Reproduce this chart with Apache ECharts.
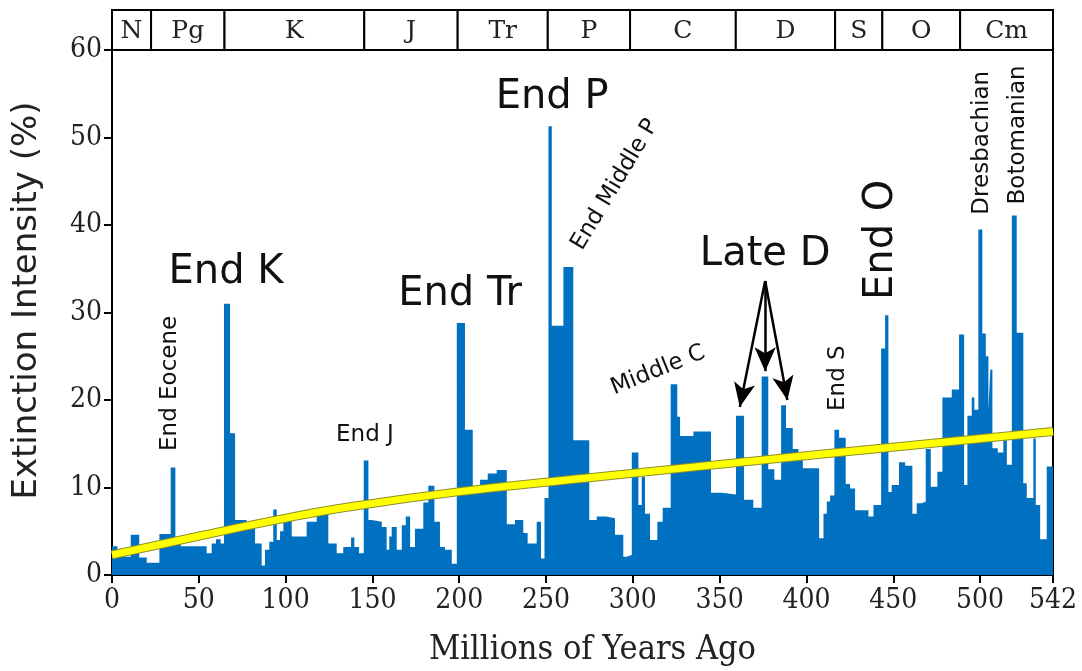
<!DOCTYPE html>
<html>
<head>
<meta charset="utf-8">
<script src="https://cdn.jsdelivr.net/npm/echarts@6/dist/echarts.min.js"></script>
<style>html,body{margin:0;padding:0;background:#fff}#c{width:1082px;height:671px}</style>
</head>
<body>
<div id="c"></div>
<script>
// Step histogram: bin start ages (Ma) and extinction intensity (%)
const binStarts = [0,3.1,10.8,15.7,20,27.3,33.8,36.5,39.6,54.5,57.4,59.9,62.6,64.5,68,70.9,77.6,82.4,86.2,88.1,90.6,92.9,94.9,96.8,98.7,103.5,112.1,117.9,124.6,129.4,133.2,137.7,139.6,142.3,145,147.7,149.6,155.4,158.2,159.7,161.1,164,166.9,169.2,171.7,174.5,179.3,182.2,185.7,188.9,191.8,195.7,198.6,203.3,207.8,212,216.4,221.6,227.4,232.1,236.9,239.4,244.6,247.1,249.1,251.4,253.3,260,265.7,274.9,279.2,284.6,289.7,294.5,296.5,299.4,303.2,305.1,307,309.9,314.1,317.2,321.8,325.6,327.2,334.9,345,351.2,359.4,364,369.4,374.2,378,381.5,385.4,388.2,392.1,395.3,397.9,407.3,409.8,411.7,413.6,416.1,418.8,422.6,425.1,428,435.7,438.6,443,445.3,447.2,449.1,453.3,456.8,461,463.5,466.4,468.7,471.6,475.4,478.3,483.7,487.9,490.8,492.7,495.2,496.7,499,501.3,503.3,504.8,505.9,507.1,510.2,513.4,515.4,518.3,521.1,524.9,526.9,530.7,532.1,534.6,538.4];
const binValues = [3.3,2.1,4.6,2.0,1.4,4.7,12.3,4.0,3.3,2.5,3.6,4.1,3.6,31.0,16.2,6.3,6.0,3.6,1.1,2.9,3.8,7.5,4.0,5.0,6.9,4.4,6.1,7.5,3.6,2.5,3.2,4.3,3.2,2.5,13.1,6.3,6.1,5.5,2.9,4.4,5.5,2.9,5.7,6.7,3.2,5.3,8.3,10.2,6.1,3.2,2.9,1.3,28.8,16.6,9.9,10.9,11.6,12.0,5.8,6.3,4.8,3.6,6.1,1.9,8.8,51.3,28.5,35.2,15.4,6.3,6.7,6.5,4.6,2.1,2.3,14.0,8.0,11.2,7.0,4.0,6.1,7.7,21.8,18.1,15.9,16.4,9.4,9.2,18.2,8.6,7.7,22.7,12.1,10.9,19.4,16.8,14.4,14.0,12.2,4.2,7.0,8.4,9.1,16.6,15.7,10.4,9.9,7.4,6.7,8.0,25.9,29.7,9.5,10.3,12.9,12.5,7.0,8.2,8.4,14.4,10.1,11.8,20.3,21.2,27.5,10.3,18.2,20.3,18.9,39.5,27.6,25.0,18.8,23.5,14.5,14.0,15.4,12.6,41.1,27.7,10.5,8.8,15.6,8.0,4.1,12.4];
const endAge = 542;

// Trend line
const trendAges = [0,49,95,137,199,272,408,542];
const trendValues = [2.3,4.4,6.3,7.8,9.5,11.05,13.8,16.4];

// Geological periods
const periodNames = ['N','Pg','K','J','Tr','P','C','D','S','O','Cm'];
const periodBounds = [0,22.5,64.8,145.3,199.1,251,298.4,359.3,416.5,443.7,488.5,542];

// x tick labels
const xTicks = [0,50,100,150,200,250,300,350,400,450,500,542];

// Annotations [text, age, value]
const annoText = ['End K','End Tr','End P','Late D','End O','End Eocene','End J','End Middle P','Middle C','End S','Dresbachian','Botomanian'];
const annoAge  = [65.7,200.5,253.5,376.2,443.3,33.4,145.7,289.7,314.5,418.2,501.2,521.9];
const annoVal  = [34.6,32.0,54.6,36.6,38.3,21.9,16.0,44.6,23.4,22.5,49.4,50.3];
// Late D arrows [fromAge, fromVal, toAge, toVal]
const arrows = [[376.2,33.6,361.6,19.2],[376.2,33.6,376.2,23.3],[376.2,33.6,389.0,20.0]];

const annoStyle = [
  {s:40,r:0},{s:40,r:0},{s:40,r:0},{s:40,r:0},{s:40,r:90},
  {s:23,r:90},{s:23,r:0},{s:23,r:59},{s:23,r:22},{s:23,r:90},{s:23,r:90},{s:23,r:90}
];

const histData = binStarts.map((a,i)=>[a,binValues[i]]);
histData.push([endAge, binValues[binValues.length-1]]);
const trendData = trendAges.map((a,i)=>[a,trendValues[i]]);

const chart = echarts.init(document.getElementById('c'));
const serif = '"DejaVu Serif Condensed","DejaVu Serif",serif';
const sans = '"DejaVu Sans",sans-serif';

chart.setOption({
  animation:false,
  grid:{left:112,right:29,top:50,bottom:96,show:true,borderColor:'#000',borderWidth:2,containLabel:false,outerBoundsMode:'none'},
  xAxis:{
    type:'value',min:0,max:542,
    name:'Millions of Years Ago',nameLocation:'middle',nameGap:58,
    nameTextStyle:{fontFamily:serif,fontSize:34,color:'#222',padding:[0,0,0,20]},
    axisLine:{show:true,onZero:false,lineStyle:{color:'#000',width:2}},
    axisTick:{show:true,inside:false,length:8,lineStyle:{color:'#000',width:2},customValues:xTicks},
    axisLabel:{fontFamily:serif,fontSize:28,color:'#222',margin:12,customValues:xTicks},
    splitLine:{show:false}
  },
  yAxis:{
    type:'value',min:0,max:60,interval:10,
    name:'Extinction Intensity (%)',nameLocation:'middle',nameGap:68,
    nameTextStyle:{fontFamily:sans,fontSize:34,color:'#222',padding:[0,0,0,24]},
    axisLine:{show:true,lineStyle:{color:'#000',width:2}},
    axisTick:{show:true,inside:false,length:8,lineStyle:{color:'#000',width:2}},
    axisLabel:{fontFamily:serif,fontSize:28,color:'#222',margin:10},
    splitLine:{show:false}
  },
  series:[
    {type:'line',step:'end',data:histData,symbol:'none',
     lineStyle:{width:0,color:'#0070c0'},areaStyle:{color:'#0070c0',opacity:1},z:2},
    {type:'line',data:trendData,smooth:true,symbol:'none',
     lineStyle:{width:9,color:'#8f8f2a'},z:3},
    {type:'line',data:trendData,smooth:true,symbol:'none',
     lineStyle:{width:7,color:'#ffff00'},z:4,
     markLine:{silent:true,symbol:['none','arrow'],symbolSize:[16,24],animation:false,
       label:{show:false},
       lineStyle:{color:'#000',width:2.5,type:'solid'},
       data:arrows.map(a=>[{coord:[a[0],a[1]]},{coord:[a[2],a[3]]}])}
    }
  ]
});

const g = [];
const toPx = (a)=>chart.convertToPixel({xAxisIndex:0},a);
const bandTop = 10, bandBot = 50;
for(let i=0;i<periodNames.length;i++){
  const x0 = toPx(periodBounds[i]), x1 = toPx(periodBounds[i+1]);
  g.push({type:'rect',shape:{x:x0,y:bandTop,width:x1-x0,height:bandBot-bandTop},
    style:{fill:'#fff',stroke:'#000',lineWidth:2},z:10});
  g.push({type:'text',x:(x0+x1)/2,y:(bandTop+bandBot)/2+1,
    style:{text:periodNames[i],fontFamily:'"DejaVu Serif",serif',fontSize:25,fill:'#222',align:'center',verticalAlign:'middle'},z:11});
}
for(let i=0;i<annoText.length;i++){
  const p = chart.convertToPixel({xAxisIndex:0,yAxisIndex:0},[annoAge[i],annoVal[i]]);
  g.push({type:'text',x:p[0],y:p[1],rotation:annoStyle[i].r*Math.PI/180,
    style:{text:annoText[i],fontFamily:sans,fontSize:annoStyle[i].s,fill:'#111',align:'center',verticalAlign:'middle'},z:12});
}
chart.setOption({graphic:g});
</script>
</body>
</html>
